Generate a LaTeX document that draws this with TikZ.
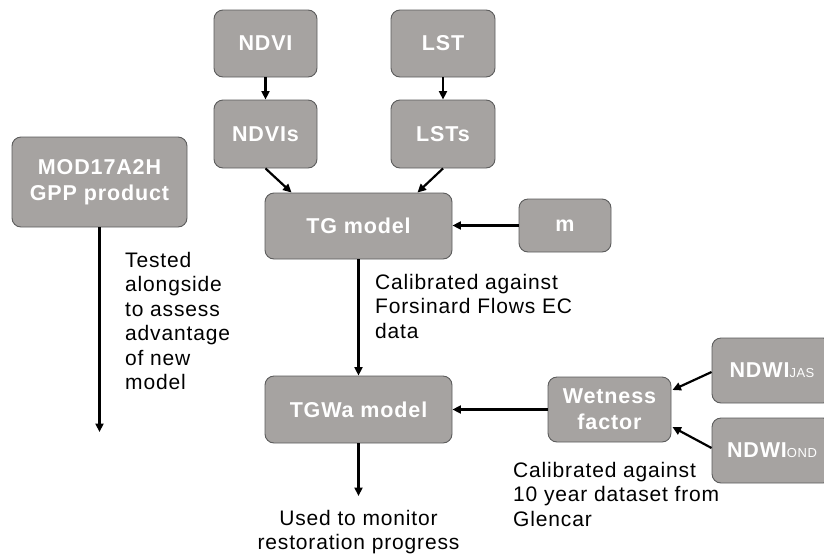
\documentclass[tikz,border=0pt]{standalone}
\usepackage{fontspec}
\setmainfont[LetterSpace=4]{Liberation Sans}
\usetikzlibrary{arrows.meta,calc}
\definecolor{boxfill}{RGB}{166,163,161}
\definecolor{boxline}{RGB}{92,92,92}

\begin{document}
\begin{tikzpicture}[x=1pt,y=-1pt,
  box/.style={draw=boxline, line width=0.9pt, fill=boxfill, rounded corners=9pt,
    text=white, font=\fontsize{21.5}{26}\selectfont\bfseries, align=center, inner sep=0pt},
  flow/.style={line width=2.2pt, -{Triangle[length=8.5pt,width=8pt]}},
  note/.style={font=\fontsize{21}{24.5}\selectfont, inner sep=0pt}]
\useasboundingbox (0,0) rectangle (824,555);

% input boxes
\node[box, minimum width=103pt, minimum height=67pt] (ndvi)  at (265.5,43.5) {NDVI};
\node[box, minimum width=103pt, minimum height=68pt] (ndvis) at (265.5,134)  {NDVIs};
\node[box, minimum width=104pt, minimum height=67pt] (lst)   at (443,43.5)   {LST};
\node[box, minimum width=104pt, minimum height=68pt] (lsts)  at (443,134)    {LSTs};

% models
\node[box, minimum width=187pt, minimum height=66pt] (tg)   at (358.5,226)   {TG model};
\node[box, minimum width=92pt,  minimum height=53pt] (m)    at (565,225.5)   {m};
\node[box, minimum width=187pt, minimum height=67pt] (tgwa) at (358.5,409.5) {TGWa model};
\node[box, minimum width=123pt, minimum height=65pt] (wet)  at (609.5,409.5) {Wetness\\factor};
\node[box, minimum width=175pt, minimum height=90pt] (mod)  at (99.5,182)    {MOD17A2H\\GPP product};

% wetness inputs (partly beyond the right edge)
\node[box, minimum width=120pt, minimum height=65pt] (ndwij) at (772,370.5)
  {NDWI{\fontsize{13}{14}\selectfont\mdseries JAS}};
\node[box, minimum width=120pt, minimum height=65pt] (ndwio) at (772,450.5)
  {NDWI{\fontsize{13}{14}\selectfont\mdseries OND}};

% free ends
\coordinate (modend) at (99.5,432);
\coordinate (tgwaend) at (358.5,496);

% connectors
\draw[flow] (ndvi) -- (ndvis);
\draw[flow] (lst) -- (lsts);
\draw[flow] (ndvis.south) -- ($(tg.north west)+(27,0)$);
\draw[flow] (lsts.south) -- ($(tg.north east)+(-35,0)$);
\draw[flow] (m.west) -- (tg.east |- m.west);
\draw[flow] (tg) -- (tgwa);
\draw[flow] (wet) -- (tgwa);
\draw[flow] (tgwa) -- (tgwaend);
\draw[flow] (mod) -- (modend);
\draw[flow] ($(ndwij.west)+(0,1.5)$) -- ($(wet.east)+(1,-19.5)$);
\draw[flow] ($(ndwio.west)+(0,-2.5)$) -- ($(wet.east)+(1,17.5)$);

% annotations
\node[note, anchor=north west, align=left] (ntest) at (125,252)
  {Tested\\alongside\\to assess\\advantage\\of new\\model};
\node[note, anchor=north west, align=left] (ncal1) at (375,274)
  {Calibrated against\\Forsinard Flows EC\\data};
\node[note, anchor=north west, align=left] (ncal2) at (513,462)
  {Calibrated against\\10 year dataset from\\Glencar};
\node[note, anchor=north, align=center] (nuse) at (358.5,510)
  {Used to monitor\\restoration progress};
\end{tikzpicture}
\end{document}
